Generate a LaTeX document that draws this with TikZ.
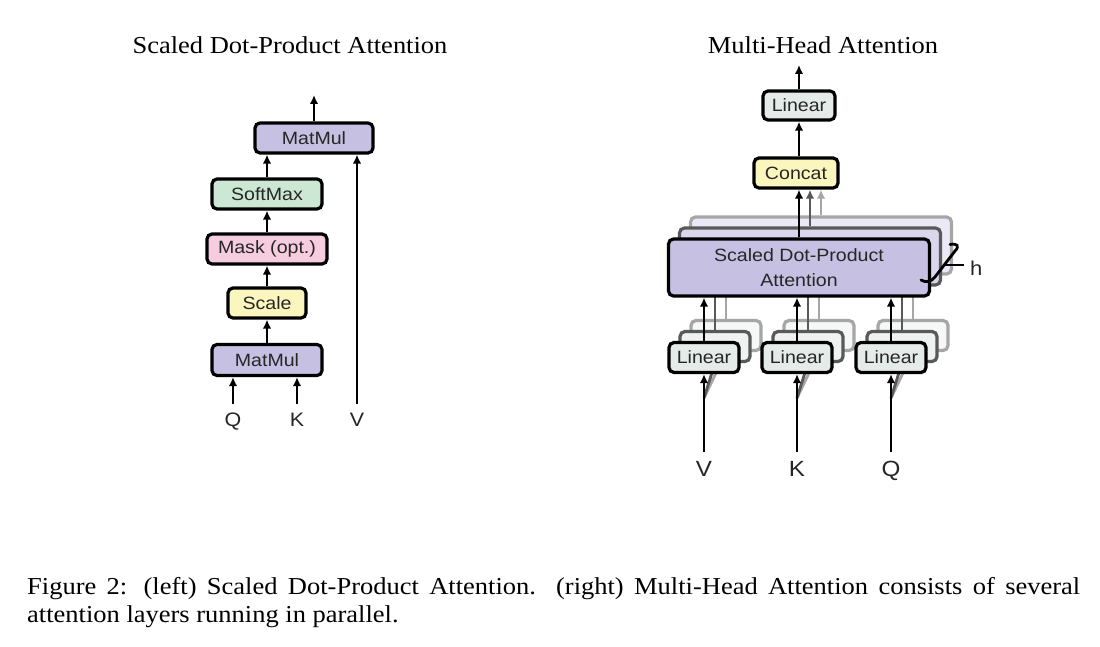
\documentclass[tikz,border=0pt]{standalone}
\usepackage{fontspec}
\setmainfont{Liberation Serif}
\newfontfamily\capfont[FakeStretch = 1.09]{Liberation Serif}
\newfontfamily\boxfont[FakeStretch = 1.1]{Liberation Sans}
\usetikzlibrary{arrows.meta}

\definecolor{matcol}{RGB}{198,192,226}
\definecolor{softcol}{RGB}{204,232,212}
\definecolor{maskcol}{RGB}{246,204,223}
\definecolor{scalecol}{RGB}{251,246,190}
\definecolor{lincol}{RGB}{229,235,232}
\definecolor{catcol}{RGB}{251,246,190}

\begin{document}
\begin{tikzpicture}[x = 1pt, y = -1pt, > = {Latex[length = 9pt, width = 8.5pt]},
	box/.style = {draw, line width = 3.2pt, rounded corners = 5pt, inner sep = 0pt,
		text = black!85, font = \boxfont\fontsize{17.8}{24.3}\selectfont},
	head/.style = {box, minimum width = 261pt, minimum height = 57pt},
	proj/.style = {box, minimum width = 70pt, minimum height = 30pt},
	flow/.style = {->, line width = 2.8pt},
	letter/.style = {inner sep = 0pt, text = black!85, font = \boxfont\fontsize{19.5}{22}\selectfont},
	title/.style = {inner sep = 0pt, font = \capfont\fontsize{24.3}{28}\selectfont}]

\path [fill = white] (0, 0) rectangle (1100, 647);
\useasboundingbox (0, 0) rectangle (1100, 647);

% Scaled dot-product attention

\node [title, anchor = base] (ltitle) at (290, 54) {Scaled Dot-Product Attention};

\node [box, fill = matcol, minimum width = 118pt, minimum height = 30pt] (mm2) at (314, 138) {MatMul};
\node [box, fill = softcol, minimum width = 110pt, minimum height = 30pt] (soft) at (267, 194) {SoftMax};
\node [box, fill = maskcol, minimum width = 120pt, minimum height = 30pt] (mask) at (267, 249) {Mask (opt.)};
\node [box, fill = scalecol, minimum width = 78pt, minimum height = 30pt] (scale) at (267, 303) {Scale};
\node [box, fill = matcol, minimum width = 110pt, minimum height = 31pt] (mm1) at (267, 360) {MatMul};

\node [letter, anchor = base] (qin) at (233, 426) {Q};
\node [letter, anchor = base] (kin) at (297, 426) {K};
\node [letter, anchor = base] (vin) at (357, 426) {V};

\coordinate (out1) at (314, 95);

\draw [flow] ([yshift = 8pt] qin.north) -- (qin.north |- mm1.south);
\draw [flow] ([yshift = 8pt] kin.north) -- (kin.north |- mm1.south);
\draw [flow] ([yshift = 8pt] vin.north) -- (vin.north |- mm2.south);
\draw [flow] (mm1) -- (scale);
\draw [flow] (scale) -- (mask);
\draw [flow] (mask) -- (soft);
\draw [flow] (soft.north) -- (soft.north |- mm2.south);
\draw [flow] (mm2) -- (out1);

% Multi-head attention

\node [title, anchor = base] (rtitle) at (823, 54) {Multi-Head Attention};

\node [box, fill = lincol, minimum width = 72pt, minimum height = 29pt] (lin) at (799, 105.5) {Linear};
\node [box, fill = catcol, minimum width = 84pt, minimum height = 30pt] (cat) at (796, 173) {Concat};

\coordinate (out2) at (799, 65);
\coordinate (splitv) at (704, 398);
\coordinate (splitk) at (797, 398);
\coordinate (splitq) at (891, 398);

\draw [flow] (lin) -- (out2);
\draw [flow] (lin |- cat.north) -- (lin);

% Faded copies of the heads

\foreach \k / \fade in {2/35, 1/65} {
	\begin{scope}[shift = {(11 * \k, -11 * \k)}, color = black!\fade!white]
		\node [head, fill = matcol!\fade!white] (att\k) at (799, 267.5) {};
		\foreach \inp / \xin in {v/704, k/797, q/891}
			\node [proj, fill = lincol!\fade!white] (lin\inp\k) at (\xin, 357.5) {};
		\draw [flow] (att\k.north) -- (att\k.north |- cat.south);
		\foreach \inp in {v, k, q} {
			\draw [flow] (lin\inp\k) -- (lin\inp\k |- att\k.south);
			\draw [flow] (split\inp) -- (lin\inp\k.south);
		}
	\end{scope}
}

% Front head

\node [head, fill = matcol, align = center] (att) at (799, 267.5) {Scaled Dot-Product\\Attention};
\draw [flow] (att.north) -- (att.north |- cat.south);

\foreach \inp / \lab / \xin in {v/V/704, k/K/797, q/Q/891} {
	\node [proj, fill = lincol] (lin\inp) at (\xin, 357.5) {Linear};
	\node [letter, anchor = base, font = \boxfont\fontsize{22}{24}\selectfont] (\inp in) at (\xin, 476.5) {\lab};
	\draw [flow] ([yshift = 9pt] \inp in.north) -- (lin\inp.south);
	\draw [flow] (lin\inp) -- (lin\inp |- att.south);
}

% Number of heads

\draw [line width = 2.8pt, line cap = round] (950, 244.5) .. controls (957, 243) and (960, 246) .. (955, 251)
	-- (935, 277) .. controls (931, 282) and (926, 283) .. (921, 280);
\coordinate (htip) at (944, 265);
\node [letter, anchor = base west, font = \boxfont\fontsize{20}{22}\selectfont] (hlab) at (970, 275) {h};
\draw [line width = 1.7pt, shorten >= 6pt] (htip) -- (hlab.west |- htip);

% Caption

\node [anchor = base west, inner sep = 0pt, font = \fontsize{24.3}{28}\capfont] (caption) at (27, 594.3)
	{\parbox[t]{1053pt}{Figure 2: (left) Scaled Dot-Product Attention. (right) Multi-Head Attention consists of several\linebreak attention layers running in parallel.}};

\end{tikzpicture}
\end{document}
